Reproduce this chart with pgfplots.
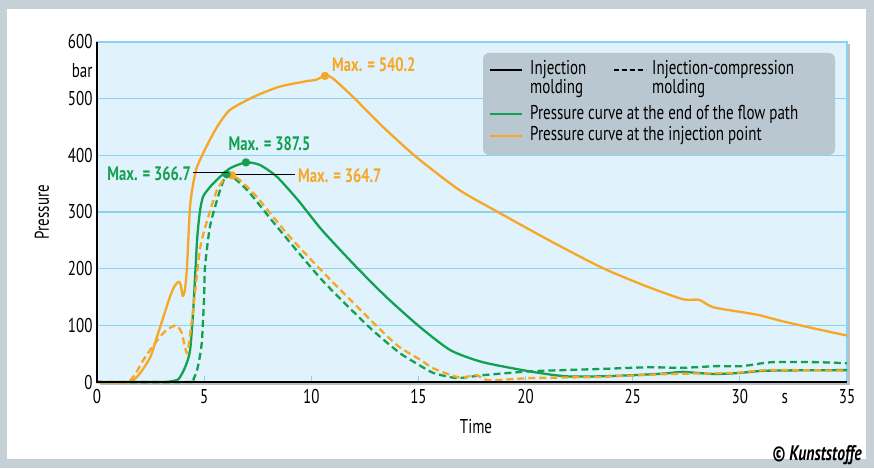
\documentclass[border=0pt]{standalone}
\usepackage{fontspec}
\setmainfont{PT Sans}[FakeStretch=0.75]
\usepackage{pgfplots}
\pgfplotsset{compat=1.18}
\usetikzlibrary{shadows}
\definecolor{bgblue}{HTML}{E0F2FB}
\definecolor{gridblue}{HTML}{89D3F1}
\definecolor{cgreen}{HTML}{12A150}
\definecolor{corange}{HTML}{F7A724}
\definecolor{leggray}{HTML}{B9C8D0}
\definecolor{framegray}{HTML}{C5D0D7}
\newcommand{\fs}{\fontsize{20}{23}\selectfont}
\newcommand{\fb}{\fontsize{19.5}{22}\selectfont\bfseries}
\begin{document}
\begin{tikzpicture}
\fill[framegray] (-97pt,-86pt) rectangle (777pt,382pt);
\fill[white] (-90pt,-77pt) rectangle (769pt,373pt);
\begin{axis}[
  scale only axis, width=750pt, height=340pt,
  xmin=0, xmax=35, ymin=0, ymax=600,
  axis background/.style={fill=bgblue, drop shadow={shadow xshift=2.5pt, shadow yshift=-2.5pt, fill=black!50, opacity=0.5}},
  axis line style={draw=gridblue, line width=1.2pt},
  xtick={0,5,...,35}, ytick={0,100,...,600},
  extra x ticks={32.1}, extra x tick labels={s},
  extra x tick style={major tick length=0pt, grid=none},
  extra y ticks={550}, extra y tick labels={bar},
  extra y tick style={grid=none},
  ymajorgrids, grid style={draw=gridblue, line width=1.2pt},
  tick align=inside, xtick pos=bottom, ytick pos=left,
  major tick length=6pt,
  xtick style={draw=gridblue, line width=0.8pt},
  ytick style={draw=none},
  tick label style={font=\fs},
  /pgf/number format/assume math mode=true,
  xticklabel style={yshift=-4pt, text height=14pt, text depth=0pt},
  yticklabel style={xshift=-1pt},
  clip=false,
  every axis plot/.append style={line width=2.3pt, line join=round, smooth, tension=0.4},
]
% injection point, injection molding
\addplot[corange] coordinates {
(0,0) (1.5,0) (2.0,15) (2.5,45) (2.8,80) (3.1,115) (3.4,150) (3.6,168) (3.8,177) (3.9,172) (4.0,152) (4.1,162) (4.2,203) (4.34,309) (4.5,352) (4.67,380) (5.1,415) (5.6,450) (6.2,480) (7.3,503) (8.5,521) (9.8,531) (10.2,533) (10.64,540.2) (11.0,536) (11.95,503) (13.35,450) (14.9,397) (16.9,339) (18.8,298) (21.1,250) (23.6,201) (25.7,168) (27.35,146) (28.1,145) (28.75,132) (30.3,122) (30.9,118) (31.9,108) (33.4,95) (35,82)
};
% end of flow path, injection molding
\addplot[cgreen] coordinates {
(0,0) (3.0,0) (3.4,1) (3.8,5) (4.1,25) (4.34,55) (4.5,132) (4.67,250) (4.8,300) (4.95,327) (5.27,344) (5.6,357) (6.2,377) (6.95,387.5) (7.6,383) (8.4,362) (9.4,320) (10.5,268) (12.1,203) (13.5,150) (15.07,97) (16.5,56) (18,35) (20.3,18) (21.9,10) (23.5,10) (25,12) (26.5,15) (27.3,18) (28.0,16) (28.9,14) (30,16) (31.3,20) (35,21)
};
% end of flow path, injection-compression molding
\addplot[cgreen, dash pattern=on 7pt off 4pt] coordinates {
(0,0) (4.3,0) (4.5,5) (4.67,21) (4.8,45) (4.9,74) (5.0,150) (5.04,203) (5.27,274) (5.6,321) (5.85,350) (6.05,366.7) (6.4,360) (7.14,333) (8.4,274) (10.5,180) (12.7,97) (14.1,52) (14.9,33) (15.7,16) (16.8,7) (18,12) (20.3,19) (23.5,23) (25.8,26) (27.3,25) (28.9,28) (30.1,28) (31.5,35) (33.6,35) (35,33)
};
% injection point, injection-compression molding
\addplot[corange, dash pattern=on 7pt off 4pt] coordinates {
(0,0) (1.4,0) (1.8,15) (2.1,35) (2.47,56) (2.9,78) (3.26,92) (3.7,100) (3.95,87) (4.1,62) (4.2,51) (4.3,70) (4.5,132) (4.8,233) (5.1,280) (5.6,339) (6.0,360) (6.3,364.7) (6.7,355) (7.45,327) (9,256) (10.9,180) (13.1,97) (14.1,62) (15.1,39) (15.7,24) (16.9,8) (17.7,12) (18.3,3) (20.3,7) (23.5,9) (26.6,14) (29.7,16) (31.3,21) (35,20)
};
% maxima
\addplot[only marks, mark=*, mark size=3pt, corange] coordinates {(10.64,540.2) (6.3,364.7)};
\addplot[only marks, mark=*, mark size=3pt, cgreen] coordinates {(6.95,387.5) (6.05,366.7)};
\end{axis}
% black axis lines
\draw[black, line width=1.6pt] (0pt,340pt) -- (0pt,0pt) -- (750pt,0pt);
% annotations
\node[anchor=west, text=corange, font=\fb, inner sep=0pt] at (235pt,317pt) {Max. = 540.2};
\node[text=cgreen, font=\fb, inner sep=0pt] at (172.5pt,238pt) {Max. = 387.5};
\node[anchor=east, text=cgreen, font=\fb, inner sep=0pt] at (94pt,208pt) {Max. = 366.7};
\node[anchor=west, text=corange, font=\fb, inner sep=0pt] at (201pt,206pt) {Max. = 364.7};
\draw[black, line width=1pt] (96pt,209pt) -- (131pt,209pt);
\draw[black, line width=1pt] (139pt,207pt) -- (198pt,207pt);
% legend
\fill[leggray, rounded corners=6pt] (386pt,227pt) rectangle (738pt,329pt);
\draw[black, line width=1.8pt] (393pt,312pt) -- (425pt,312pt);
\node[anchor=west, font=\fs, inner sep=0pt] at (433pt,312pt) {Injection};
\node[anchor=west, font=\fs, inner sep=0pt] at (433pt,293pt) {molding};
\draw[black, line width=1.8pt, dash pattern=on 5pt off 3pt] (517pt,312pt) -- (549pt,312pt);
\node[anchor=west, font=\fs, inner sep=0pt] at (555pt,312pt) {Injection-compression};
\node[anchor=west, font=\fs, inner sep=0pt] at (555pt,293pt) {molding};
\draw[cgreen, line width=2pt] (393pt,268pt) -- (425pt,268pt);
\node[anchor=west, font=\fs, inner sep=0pt] at (433pt,268pt) {Pressure curve at the end of the flow path};
\draw[corange, line width=2pt] (393pt,246pt) -- (425pt,246pt);
\node[anchor=west, font=\fs, inner sep=0pt] at (433pt,246pt) {Pressure curve at the injection point};
% labels
\node[rotate=90, font=\fs] at (-55pt,170pt) {Pressure};
\node[font=\fs] at (379pt,-45pt) {Time};
\node[anchor=east, font=\fontsize{21}{24}\selectfont\bfseries\itshape, inner sep=0pt] at (765pt,-73pt) {© Kunststoffe};
\pgfresetboundingbox
\path (-97pt,-86pt) rectangle (777pt,382pt);
\end{tikzpicture}
\end{document}
